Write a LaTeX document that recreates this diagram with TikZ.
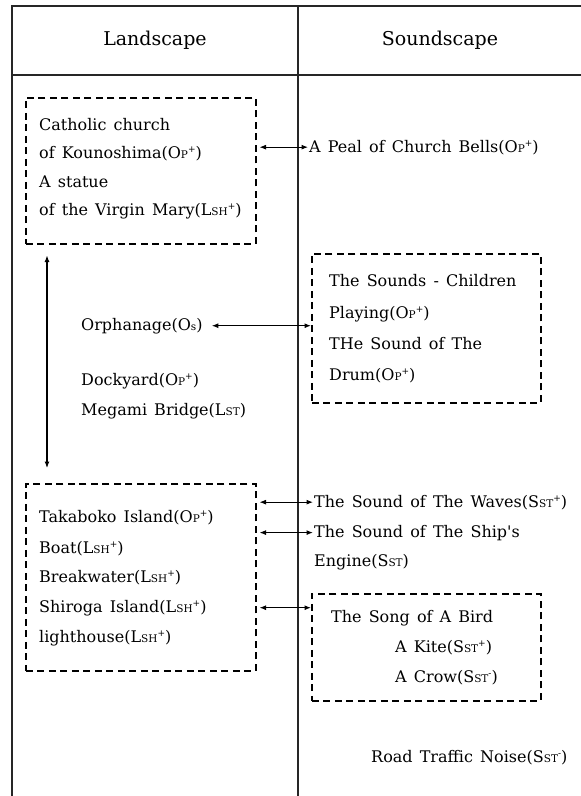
\documentclass[tikz,border=0pt]{standalone}
\usepackage{fontspec}
\setmainfont{DejaVu Serif}[WordSpace=1.4, Ligatures=TeXOff]
\usetikzlibrary{positioning, arrows.meta}

\newcommand{\ix}[3]{#1\raisebox{-0.4pt}{\fontsize{10.5}{11}\selectfont #2}\raisebox{6pt}{\fontsize{9}{9}\selectfont #3}}

\begin{document}
\begin{tikzpicture}[x=1pt, y=-1pt,
    frame/.style={line width=1.4pt, black!85},
    dbox/.style={draw, black, dash pattern=on 7pt off 4.5pt, line width=1.5pt, anchor=north west, inner sep=0pt},
    txt/.style={anchor=base west, inner sep=1pt, font=\fontsize{16}{19}\selectfont},
    head/.style={font=\fontsize{19}{22}\selectfont},
    arrow/.style={{Latex[length=6.5pt,width=5pt]}-{Latex[length=6.5pt,width=5pt]}, line width=1.1pt},
]
\useasboundingbox (0,0) rectangle (581,796);

% --- table frame ---
\draw[frame] (12,796) -- (12,6) -- (581,6);
\draw[frame] (12,75) -- (581,75);
\draw[frame] (298,6) -- (298,796);
\node[head] (land) at (155,40) {Landscape};
\node[head] (sound) at (440,40) {Soundscape};

% --- dashed groups ---
\node[dbox, minimum width=230pt, minimum height=146pt] (church) at (25,97) {};
\node[dbox, minimum width=229pt, minimum height=149pt] (children) at (311,253) {};
\node[dbox, minimum width=230pt, minimum height=187pt] (island) at (25,483) {};
\node[dbox, minimum width=229pt, minimum height=107pt] (bird) at (311,593) {};

% --- landscape ---
\node[txt] (c1) at (38,130) {Catholic church};
\node[txt] (c2) at (38,158) {of Kounoshima(\ix{O}{P}{+})};
\node[txt] (c3) at (38,187) {A statue};
\node[txt] (c4) at (38,215) {of the Virgin Mary(\ix{L}{SH}{+})};
\node[txt] (orph) at (80,330) {Orphanage(O\raisebox{-0.4pt}{\fontsize{10.5}{11}\selectfont s})};
\node[txt] (dock) at (80,385) {Dockyard(\ix{O}{P}{+})};
\node[txt] (megami) at (80,415) {Megami Bridge(L\raisebox{-0.4pt}{\fontsize{10.5}{11}\selectfont ST})};
\node[txt] (taka) at (38,522) {Takaboko Island(\ix{O}{P}{+})};
\node[txt] (boat) at (38,553) {Boat(\ix{L}{SH}{+})};
\node[txt] (breakw) at (38,582) {Breakwater(\ix{L}{SH}{+})};
\node[txt] (shiroga) at (38,612) {Shiroga Island(\ix{L}{SH}{+})};
\node[txt] (light) at (38,642) {lighthouse(\ix{L}{SH}{+})};

% --- soundscape ---
\node[txt] (bells) at (308,152) {A Peal of Church Bells(\ix{O}{P}{+})};
\node[txt] (s1) at (328,286) {The Sounds - Children};
\node[txt] (s2) at (328,318) {Playing(\ix{O}{P}{+})};
\node[txt] (s3) at (328,349) {THe Sound of The};
\node[txt] (s4) at (328,380) {Drum(\ix{O}{P}{+})};
\node[txt] (waves) at (313,507) {The Sound of The Waves(\ix{S}{ST}{+})};
\node[txt] (ship) at (313,537) {The Sound of The Ship's};
\node[txt] (engine) at (313,566) {Engine(S\raisebox{-0.4pt}{\fontsize{10.5}{11}\selectfont ST})};
\node[txt] (song) at (330,622) {The Song of A Bird};
\node[txt] (kite) at (394,652) {A Kite(\ix{S}{ST}{+})};
\node[txt] (crow) at (394,682) {A Crow(\ix{S}{ST}{-})};
\node[txt] (road) at (370,762) {Road Traffic Noise(\ix{S}{ST}{-})};

% --- links ---
\draw[arrow, shorten <=3pt] (church.east |- bells.west) -- (bells.west);
\draw[arrow, shorten <=11pt, shorten >=15pt] ([xshift=22pt]church.south west) -- ([xshift=22pt]island.north west);
\draw[arrow, shorten <=8pt] (orph.east) -- (orph.east -| children.west);
\draw[arrow, shorten <=3pt] (island.east |- waves.west) -- (waves.west);
\draw[arrow, shorten <=3pt] (island.east |- ship.west) -- (ship.west);
\draw[arrow, shorten <=3pt] (shiroga -| island.east) -- (shiroga -| bird.west);

\end{tikzpicture}
\end{document}
